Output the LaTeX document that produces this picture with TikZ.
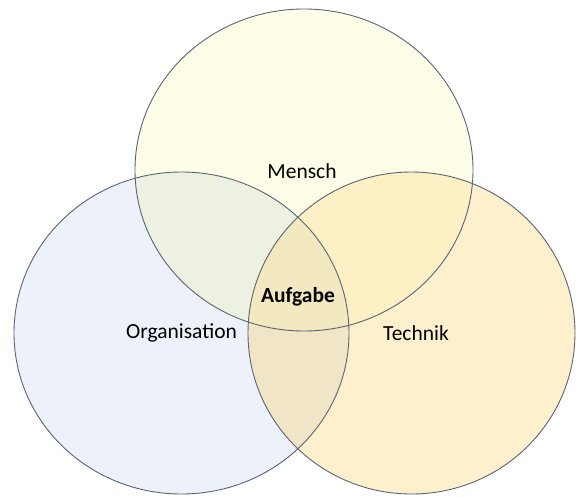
\documentclass[tikz,border=0pt]{standalone}
\usepackage{fontspec}
\setmainfont{Carlito}
\definecolor{colM}{HTML}{FDFDE8}
\definecolor{colO}{HTML}{EDF1FA}
\definecolor{colT}{HTML}{FEF0CC}
\definecolor{colMO}{HTML}{EDF1E2}
\definecolor{colMT}{HTML}{FCF0C4}
\definecolor{colOT}{HTML}{F0E5C6}
\definecolor{colMOT}{HTML}{F3E9C1}
\definecolor{lineC}{HTML}{5A6476}
\tikzset{
  ring/.style={draw=lineC, line width=0.9pt},
  lbl/.style={font=\fontsize{21.5}{24}\selectfont, text=black, inner sep=0pt}
}
\begin{document}
\begin{tikzpicture}[x=1pt,y=-1pt]
\useasboundingbox (0,0) rectangle (576,496);
\clip (0,0) rectangle (576,496);
\def\shM{(304,170) ellipse [x radius=169, y radius=161]}
\def\shO{(181.5,333) ellipse [x radius=167.5, y radius=161]}
\def\shT{(411.5,333) ellipse [x radius=163.5, y radius=161]}
% single fills
\fill[colM] \shM;
\fill[colO] \shO;
\fill[colT] \shT;
% pairwise overlaps
\begin{scope}\clip \shM; \fill[colMO] \shO; \end{scope}
\begin{scope}\clip \shM; \fill[colMT] \shT; \end{scope}
\begin{scope}\clip \shO; \fill[colOT] \shT; \end{scope}
\begin{scope}\clip \shM; \clip \shO; \fill[colMOT] \shT; \end{scope}
% outlines
\draw[ring] \shM;
\draw[ring] \shO;
\draw[ring] \shT;
% labels
\node[lbl] (mensch) at (302,171) {Mensch};
\node[lbl] (org) at (181.5,333) {Organisation};
\node[lbl] (tech) at (416,333) {Technik};
\node[lbl, font=\fontsize{21.5}{24}\selectfont\bfseries] (aufgabe) at (298,297) {Aufgabe};
\end{tikzpicture}
\end{document}
